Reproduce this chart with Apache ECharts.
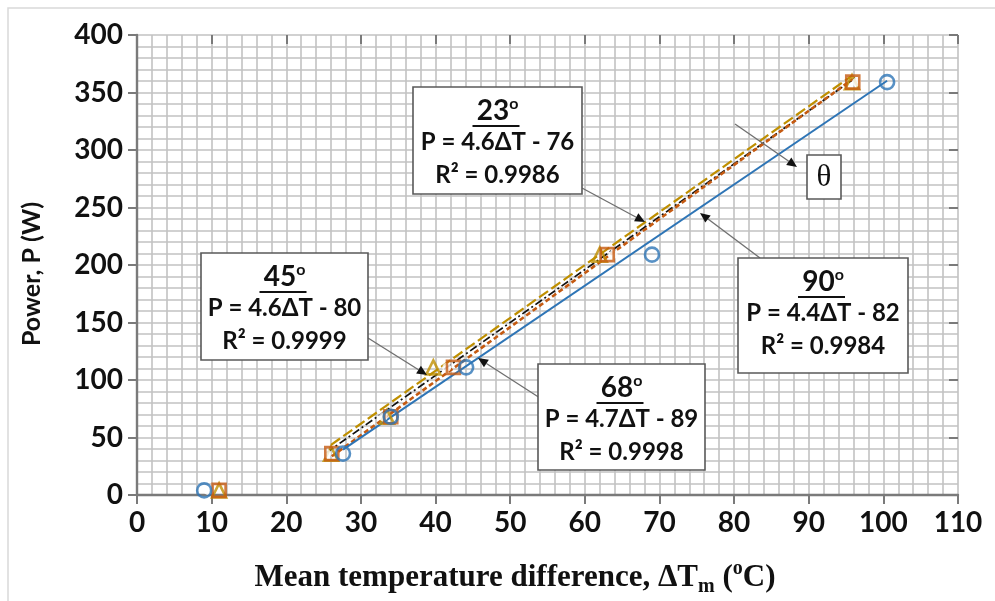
<!DOCTYPE html>
<html>
<head>
<meta charset="utf-8">
<script src="https://cdn.jsdelivr.net/npm/echarts@6/dist/echarts.min.js"></script>
<style>
  html, body { margin: 0; padding: 0; background: #ffffff; }
  #chart { width: 995px; height: 601px; }
</style>
</head>
<body>
<div id="chart"></div>
<script>
// Heat-to-power test results for four inclination angles
const angles = ['23', '45', '68', '90'];

// Measured power levels (W)
const power23 = [4, 36, 68, 111, 209, 359];
const power45 = [4, 36, 68, 111, 209, 359];
const power68 = [4, 36, 68, 111, 209, 359];
const power90 = [4, 36, 68, 111, 209, 359];

// Mean temperature difference (°C) for each power level
const dT23 = [11, 26, 33.5, 39.7, 62, 95.8];
const dT45 = [9.5, 25.4, 33, 41.5, 63.8, 96.4];
const dT68 = [11, 26.1, 34, 42.4, 63, 95.9];
const dT90 = [9, 27.6, 34, 44.1, 69, 100.5];

// Linear fits P = a·ΔT + b and their R²
const slopes = [4.6, 4.6, 4.7, 4.4];
const intercepts = [-76, -80, -89, -82];
const r2 = ['0.9986', '0.9999', '0.9998', '0.9984'];

// Axis ticks
const xTicks = [0, 110, 10];
const yTicks = [0, 400, 50];

const chart = echarts.init(document.getElementById('chart'));

const FONT = 'Lato';
const GRID_COL = '#c2c2c2';
const AXIS_COL = '#7a7a7a';

const seriesStyle = [
  { x: dT23, p: power23, symbol: 'triangle', size: 14, color: '#bf8f00', dash: [11, 4], lw: 2.2 },
  { x: dT45, p: power45, symbol: 'emptyCircle', size: 9, color: '#111111', dash: [8, 3, 2, 3], lw: 1.7 },
  { x: dT68, p: power68, symbol: 'rect', size: 13, color: '#c55a11', dash: [5, 3], lw: 2.6 },
  { x: dT90, p: power90, symbol: 'circle', size: 14, color: '#2e75b6', dash: 'solid', lw: 2 }
];

const series = [];
// Trend lines fitted over the powered points (first point excluded)
seriesStyle.forEach((s, i) => {
  const xs = s.x.slice(1);
  const x0 = Math.min(...xs), x1 = Math.max(...xs);
  series.push({
    type: 'line',
    name: angles[i] + ' fit',
    data: [[x0, slopes[i] * x0 + intercepts[i]], [x1, slopes[i] * x1 + intercepts[i]]],
    showSymbol: false,
    symbol: 'none',
    silent: true,
    z: 3,
    lineStyle: { color: s.color, width: s.lw, type: s.dash }
  });
});
// Measured points
seriesStyle.forEach((s, i) => {
  series.push({
    type: 'scatter',
    name: angles[i],
    data: s.x.map((v, k) => [v, s.p[k]]),
    symbol: s.symbol,
    symbolSize: s.size,
    z: 4,
    itemStyle: {
      color: 'rgba(255,255,255,0)',
      borderColor: s.color,
      borderWidth: 2.6
    }
  });
});

function valueAxis(ticks, showLabel, inside) {
  return {
    type: 'value',
    min: ticks[0], max: ticks[1], interval: ticks[2],
    axisLine: { show: showLabel, onZero: false, lineStyle: { color: AXIS_COL, width: 2.4 } },
    axisTick: { show: true, inside: inside, length: 9, lineStyle: { color: AXIS_COL, width: 2 } },
    axisLabel: {
      show: showLabel, fontFamily: FONT, fontWeight: 'bold', fontSize: 28,
      color: '#111111', margin: 14
    },
    splitLine: { show: showLabel, lineStyle: { color: GRID_COL, width: 1.6 } },
    minorTick: { show: false, splitNumber: 5 },
    minorSplitLine: { show: showLabel, lineStyle: { color: GRID_COL, width: 1.6 } },
    z: 2
  };
}

// Callout boxes with fit equations
function callout(left, top, w, h, i) {
  const cx = left + w / 2;
  return [
    { type: 'rect', shape: { x: left, y: top, width: w, height: h },
      style: { fill: '#ffffff', stroke: '#595959', lineWidth: 1.6 }, z: 10 },
    { type: 'text', x: cx, y: top + 24, z: 11,
      style: { text: '{n|' + angles[i] + '}{s|o}', align: 'center', verticalAlign: 'middle',
        rich: {
          n: { fontFamily: FONT, fontWeight: 'bold', fontSize: 28, fill: '#111111', lineHeight: 30 },
          s: { fontFamily: FONT, fontWeight: 'bold', fontSize: 16, fill: '#111111', verticalAlign: 'top', lineHeight: 30 }
        } } },
    { type: 'line', shape: { x1: cx - 25, y1: top + 39, x2: cx + 22, y2: top + 39 },
      style: { stroke: '#111111', lineWidth: 2.2 }, z: 11 },
    { type: 'text', x: cx, y: top + 55, z: 11,
      style: { text: 'P = ' + slopes[i].toFixed(1) + 'ΔT - ' + Math.abs(intercepts[i]),
        align: 'center', verticalAlign: 'middle',
        font: 'bold 24px ' + FONT, fill: '#111111' } },
    { type: 'text', x: cx, y: top + 88, z: 11,
      style: { text: 'R² = ' + r2[i], align: 'center', verticalAlign: 'middle',
        font: 'bold 24px ' + FONT, fill: '#111111' } }
  ];
}

function arrow(x1, y1, x2, y2) {
  const ang = Math.atan2(y2 - y1, x2 - x1);
  const L = 10, W = 4.5;
  const bx = x2 - L * Math.cos(ang), by = y2 - L * Math.sin(ang);
  const px = -Math.sin(ang) * W, py = Math.cos(ang) * W;
  return [
    { type: 'line', shape: { x1: x1, y1: y1, x2: bx, y2: by },
      style: { stroke: '#6f6f6f', lineWidth: 1.3 }, z: 9 },
    { type: 'polygon', shape: { points: [[x2, y2], [bx + px, by + py], [bx - px, by - py]] },
      style: { fill: '#111111' }, z: 9 }
  ];
}

const graphics = [].concat(
  [{ type: 'rect', shape: { x: 8, y: 8, width: 1000, height: 620 },
     style: { fill: 'none', stroke: '#d9d9d9', lineWidth: 1.5 }, z: 0 }],
  arrow(582, 188, 645, 222),
  arrow(368, 338, 427, 375),
  arrow(540, 398, 478, 358),
  arrow(760, 258, 700, 213),
  arrow(735, 124, 797, 167),
  callout(413, 87, 169, 107, 0),
  callout(201, 253, 167, 107, 1),
  callout(538, 364, 167, 106, 2),
  callout(738, 258, 170, 115, 3),
  [
    { type: 'rect', shape: { x: 807, y: 155, width: 34, height: 44 },
      style: { fill: '#ffffff', stroke: '#595959', lineWidth: 1.6 }, z: 10 },
    { type: 'text', x: 824, y: 178, z: 11,
      style: { text: 'θ', align: 'center', verticalAlign: 'middle',
        font: '31px "Liberation Serif"', fill: '#111111' } },
    { type: 'text', x: 32, y: 274, rotation: Math.PI / 2, z: 11,
      style: { text: 'Power, P (W)', align: 'center', verticalAlign: 'middle',
        font: 'bold 25px ' + FONT, fill: '#111111' } },
    { type: 'text', x: 515, y: 578, z: 11,
      style: {
        text: '{a|Mean temperature difference, ΔT}{b|m}{a| (}{c|o}{a|C)}',
        align: 'center', verticalAlign: 'middle',
        rich: {
          a: { fontFamily: 'Liberation Serif', fontWeight: 'bold', fontSize: 31, fill: '#111111', lineHeight: 38 },
          b: { fontFamily: 'Liberation Serif', fontWeight: 'bold', fontSize: 20, fill: '#111111', verticalAlign: 'bottom', lineHeight: 38 },
          c: { fontFamily: 'Liberation Serif', fontWeight: 'bold', fontSize: 20, fill: '#111111', verticalAlign: 'top', lineHeight: 38 }
        }
      } }
  ]
);

chart.setOption({
  backgroundColor: '#ffffff',
  animation: false,
  grid: { left: 137, right: 37, top: 35, bottom: 106 },
  xAxis: [valueAxis(xTicks, true, false), valueAxis(xTicks, false, true)],
  yAxis: [valueAxis(yTicks, true, false), valueAxis(yTicks, false, true)],
  series: series,
  graphic: graphics
});
</script>
</body>
</html>
